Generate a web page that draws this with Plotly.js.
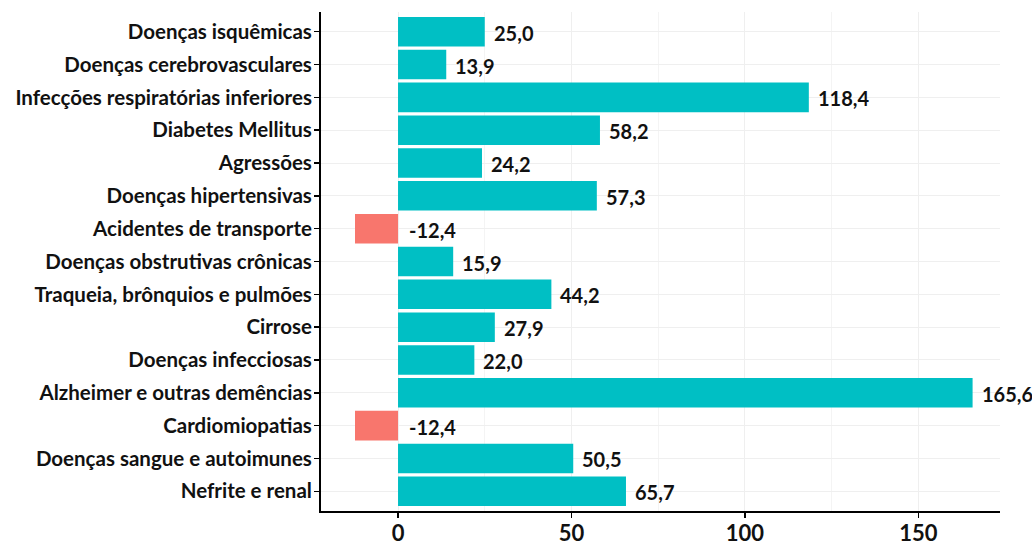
<!DOCTYPE html>
<html>
<head>
<meta charset="utf-8">
<script src="https://cdn.plot.ly/plotly-3.0.1.min.js"></script>
<style>html,body{margin:0;padding:0;background:#fff;}#chart{width:1032px;height:548px;}</style>
</head>
<body>
<div id="chart"></div>
<script>
const categories = [
  "Doenças isquêmicas",
  "Doenças cerebrovasculares",
  "Infecções respiratórias inferiores",
  "Diabetes Mellitus",
  "Agressões",
  "Doenças hipertensivas",
  "Acidentes de transporte",
  "Doenças obstrutivas crônicas",
  "Traqueia, brônquios e pulmões",
  "Cirrose",
  "Doenças infecciosas",
  "Alzheimer e outras demências",
  "Cardiomiopatias",
  "Doenças sangue e autoimunes",
  "Nefrite e renal"
];
const values = [25.0, 13.9, 118.4, 58.2, 24.2, 57.3, -12.4, 15.9, 44.2, 27.9, 22.0, 165.6, -12.4, 50.5, 65.7];
const xTicks = [0, 50, 100, 150];

const POS = "#00BFC4", NEG = "#F8766D";
const labels = values.map(v => v.toFixed(1).replace(".", ","));
const fontFam = "Lato, 'Open Sans', sans-serif";

const bars = {
  type: "bar", orientation: "h",
  y: categories, x: values, width: 0.9,
  marker: {color: values.map(v => v >= 0 ? POS : NEG), line: {width: 0}},
  hoverinfo: "x+y", showlegend: false
};

const annotations = categories.map((c, i) => ({
  x: Math.max(values[i], 0), y: c, xref: "x", yref: "y",
  text: labels[i], showarrow: false,
  xanchor: "left", yanchor: "middle",
  xshift: values[i] < 0 ? 9 : 7, yshift: -1,
  font: {family: fontFam, size: 20, color: "#111", weight: 700}
}));

const layout = {
  width: 1032, height: 548,
  margin: {l: 321, r: 32, t: 12, b: 37},
  paper_bgcolor: "#fff", plot_bgcolor: "#fff",
  font: {family: fontFam, color: "#111"},
  annotations: annotations,
  xaxis: {
    range: [-22.2, 173.5],
    tickvals: xTicks, ticktext: xTicks.map(String),
    tickfont: {family: fontFam, size: 22, color: "#111", weight: 700},
    ticklabelstandoff: -3,
    showgrid: true, gridcolor: "#EFEFEF", gridwidth: 1,
    minor: {dtick: 25, tick0: 0, showgrid: true, gridcolor: "#F4F4F4", gridwidth: 1},
    zeroline: false,
    showline: true, linecolor: "#000", linewidth: 2,
    ticks: "outside", ticklen: 5, tickwidth: 1.5, tickcolor: "#000"
  },
  yaxis: {
    type: "category",
    categoryorder: "array", categoryarray: categories,
    range: [categories.length - 1 + 0.6, -0.6],
    tickfont: {family: fontFam, size: 20.5, color: "#111", weight: 700},
    ticklabelstandoff: -2,
    showgrid: true, gridcolor: "#EFEFEF", gridwidth: 1,
    zeroline: false,
    showline: true, linecolor: "#000", linewidth: 2,
    ticks: "outside", ticklen: 5, tickwidth: 1.5, tickcolor: "#000"
  },
  bargap: 0.1
};

Plotly.newPlot("chart", [bars], layout, {displayModeBar: false, staticPlot: true});
</script>
</body>
</html>
